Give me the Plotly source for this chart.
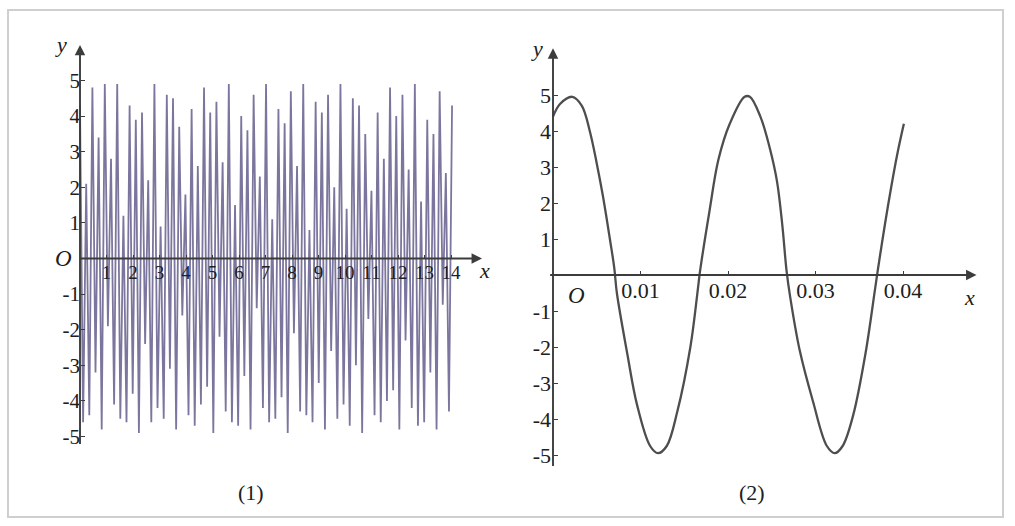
import numpy as np
import plotly.graph_objects as go

W, H = 1015, 526

# ---- panel (1): coarse sampling of the wave over 0..14 ----
left_step = 0.117
left_y = [
    4.3, -4.6, 2.1, -4.4, 4.8, -3.2, 3.4, -4.8, 4.9, -1.9,
    2.8, -4.1, 4.9, -4.5, 1.2, -4.6, 4.3, -3.8, 3.9, -4.9,
    4.1, -2.4, 2.2, -4.6, 4.9, -4.2, 0.9, -4.5, 4.6, -3.1,
    4.5, -4.8, 3.7, -1.6, 1.8, -4.4, 4.2, -4.7, 2.6, -4.1,
    4.8, -3.6, 4.1, -4.9, 4.4, -2.2, 2.7, -4.3, 4.9, -4.6,
    1.5, -4.7, 4.0, -3.3, 3.6, -4.8, 4.6, -1.4, 2.3, -4.2,
    4.9, -4.6, 1.1, -4.5, 4.2, -3.9, 3.8, -4.9, 4.7, -2.1,
    2.6, -4.3, 4.9, -4.4, 0.8, -4.6, 4.4, -3.5, 4.1, -4.8,
    4.6, -2.6, 2.0, -4.5, 4.9, -4.1, 1.4, -4.7, 4.5, -3.0,
    4.3, -4.9, 3.5, -1.7, 1.9, -4.4, 4.1, -4.6, 2.8, -4.0,
    4.8, -3.7, 4.0, -4.8, 4.6, -2.3, 2.5, -4.2, 4.9, -4.7,
    1.6, -4.6, 3.9, -3.2, 3.5, -4.8, 4.7, -1.3, 2.4, -4.3,
    4.3,
]
left_x = np.arange(len(left_y)) * left_step
left_xticks = list(range(1, 15))
left_yticks = [-5, -4, -3, -2, -1, 1, 2, 3, 4, 5]

# ---- panel (2): the same wave over 0..0.04 ----
right_x = [0.0, 0.0008, 0.0022, 0.0033, 0.0042, 0.0050, 0.0057, 0.0065, 0.0070,
           0.0073, 0.0085, 0.0096, 0.0111, 0.0120, 0.0130, 0.0142, 0.0157, 0.0166,
           0.0168, 0.0179, 0.0189, 0.0202, 0.0219, 0.0225, 0.0237, 0.0248, 0.0256,
           0.0262, 0.0267, 0.0271, 0.0282, 0.0297, 0.0313, 0.0322, 0.0331, 0.0343,
           0.0357, 0.0368, 0.0371, 0.0382, 0.0393, 0.0401]
right_y = [4.4, 4.75, 4.95, 4.7, 4.0, 3.1, 2.2, 1.0, 0.2,
           -0.5, -2.2, -3.6, -4.75, -4.95, -4.75, -3.8, -2.0, -0.3,
           0.1, 1.8, 3.2, 4.2, 4.95, 4.95, 4.4, 3.5, 2.6,
           1.4, 0.1, -0.6, -2.1, -3.5, -4.75, -4.95, -4.75, -3.9,
           -2.2, -0.4, 0.1, 1.8, 3.3, 4.2]
right_xticks = [0.01, 0.02, 0.03, 0.04]
right_xticktext = ["0.01", "0.02", "0.03", "0.04"]
right_yticks = [-5, -4, -3, -2, -1, 1, 2, 3, 4, 5]

FONT = "Liberation Serif, Times New Roman, serif"
AX = "#3c3c3c"
TXT = "#202020"


def xdomain(origin_px, scale, rng):
    return [(origin_px + rng[0] * scale) / W, (origin_px + rng[1] * scale) / W]


def ydomain(origin_px, scale, rng):
    top = origin_px - rng[1] * scale
    bottom = origin_px - rng[0] * scale
    return [(H - bottom) / H, (H - top) / H]


# pixel placement of each panel's origin and unit sizes
L_ox, L_oy, L_sx, L_sy = 80.0, 258.5, 26.5, 35.6
L_xr, L_yr = [-0.3, 15.2], [-5.6, 6.4]
R_ox, R_oy, R_sx, R_sy = 553.0, 275.0, 8750.0, 36.0
R_xr, R_yr = [-0.0015, 0.0485], [-5.6, 6.6]

fig = go.Figure()
fig.add_trace(go.Scatter(x=left_x, y=left_y, mode="lines",
                         line=dict(color="rgba(100,94,140,0.85)", width=1.8),
                         xaxis="x", yaxis="y", hoverinfo="skip"))
fig.add_trace(go.Scatter(x=right_x, y=right_y, mode="lines",
                         line=dict(color="#4e4e4e", width=2.3, shape="spline", smoothing=1.0),
                         xaxis="x2", yaxis="y2", hoverinfo="skip"))

common = dict(showgrid=False, zeroline=False, showline=False, ticks="inside",
              ticklen=4, tickwidth=1.3, tickcolor=AX, fixedrange=True)

fig.update_layout(
    width=W, height=H,
    margin=dict(l=0, r=0, t=0, b=0),
    paper_bgcolor="white", plot_bgcolor="rgba(0,0,0,0)",
    showlegend=False,
    font=dict(family=FONT, color=TXT),
    xaxis=dict(domain=xdomain(L_ox, L_sx, L_xr), range=L_xr, anchor="free",
               position=(H - L_oy) / H, tickvals=left_xticks,
               tickfont=dict(family=FONT, size=19, color=TXT), **common),
    yaxis=dict(domain=ydomain(L_oy, L_sy, L_yr), range=L_yr, anchor="free",
               position=L_ox / W, tickvals=left_yticks,
               ticktext=[str(v) for v in left_yticks],
               tickfont=dict(family=FONT, size=21, color=TXT),
               ticklabelstandoff=0, **common),
    xaxis2=dict(domain=xdomain(R_ox, R_sx, R_xr), range=R_xr, anchor="free",
                position=(H - R_oy) / H, tickvals=right_xticks,
                ticktext=right_xticktext,
                tickfont=dict(family=FONT, size=22, color=TXT), **common),
    yaxis2=dict(domain=ydomain(R_oy, R_sy, R_yr), range=R_yr, anchor="free",
                position=R_ox / W, tickvals=right_yticks,
                ticktext=[str(v) for v in right_yticks],
                tickfont=dict(family=FONT, size=22, color=TXT),
                ticklabelstandoff=2, **common),
)

annotations = []


def axis_arrow(xref, yref, x0, y0, x1, y1):
    annotations.append(dict(
        x=x1, y=y1, ax=x0, ay=y0, xref=xref, yref=yref, axref=xref, ayref=yref,
        text="", showarrow=True, arrowhead=2, arrowsize=1.1, arrowwidth=1.9,
        arrowcolor=AX, standoff=0, startstandoff=0))


# coordinate axes with arrowheads
axis_arrow("x", "y", -0.05, 0, 15.17, 0)
axis_arrow("x", "y", 0, -5.25, 0, 6.0)
axis_arrow("x2", "y2", -0.0005, 0, 0.0484, 0)
axis_arrow("x2", "y2", 0, -5.35, 0, 6.3)


def label(text, px, py, size=22, italic=True):
    annotations.append(dict(
        x=px / W, y=(H - py) / H, xref="paper", yref="paper", text=text,
        showarrow=False, xanchor="center", yanchor="middle",
        font=dict(family=FONT, size=size, color=TXT,
                  style="italic" if italic else "normal")))


label("y", 61, 44)
label("x", 484, 270)
label("O", 63, 258, size=23)
label("y", 537, 48)
label("x", 969, 297)
label("O", 576, 296, size=23)
label("(1)", 251, 492, size=22, italic=False)
label("(2)", 752, 492, size=22, italic=False)

fig.update_layout(annotations=annotations)

# page frame
fig.add_shape(type="rect", xref="paper", yref="paper",
              x0=8 / W, x1=1003 / W, y0=(H - 517) / H, y1=(H - 10) / H,
              line=dict(color="#cfcfcf", width=2))

fig.write_html("out.html")
